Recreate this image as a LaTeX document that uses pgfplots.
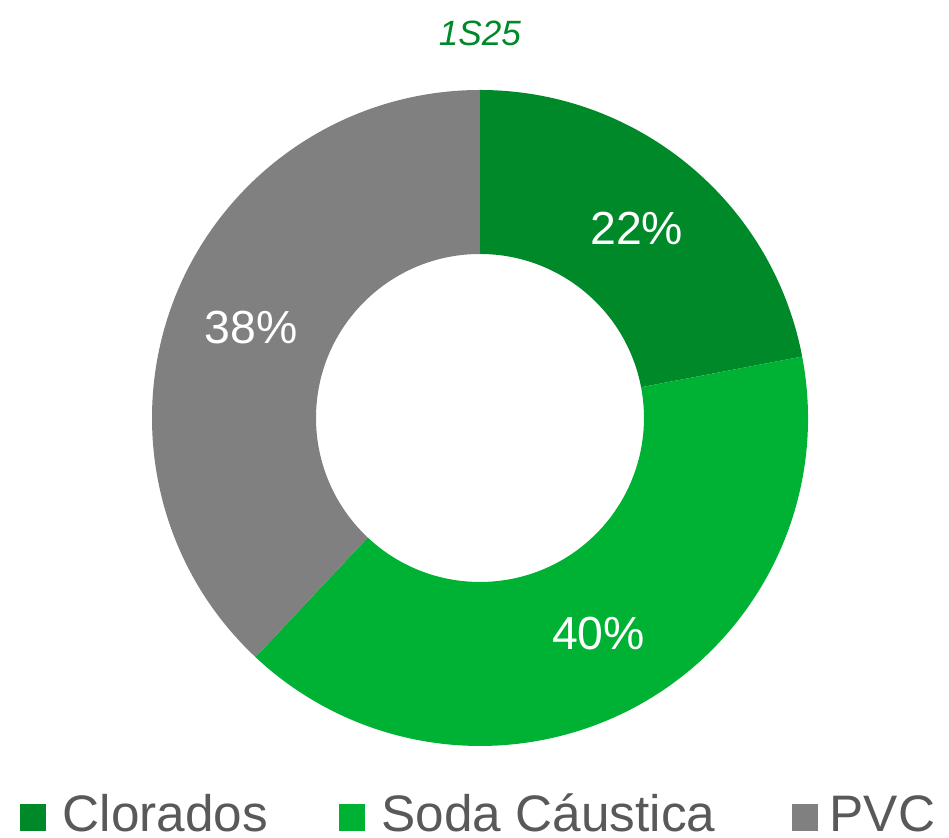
\documentclass[border=0pt]{standalone}
\usepackage{pgfplots}
\pgfplotsset{compat=1.18}
\usepackage{fontspec}
\setmainfont{Liberation Sans}
\definecolor{cloro}{RGB}{0,137,41}
\definecolor{soda}{RGB}{0,178,52}
\definecolor{pvc}{RGB}{128,128,128}
\definecolor{legtxt}{RGB}{89,89,89}
% slice shares (%)
\def\vA{22}\def\vB{40}\def\vC{38}
\def\rin{1.64}\def\rout{3.28}\def\rmid{2.46}
\pgfmathsetmacro\aA{90}
\pgfmathsetmacro\aB{\aA-3.6*\vA}
\pgfmathsetmacro\aC{\aB-3.6*\vB}
\pgfmathsetmacro\aD{\aC-3.6*\vC}
\pgfmathsetmacro\mA{(\aA+\aB)/2}
\pgfmathsetmacro\mB{(\aB+\aC)/2}
\pgfmathsetmacro\mC{(\aC+\aD)/2}
\begin{document}
\begin{tikzpicture}
\begin{axis}[
  hide axis, disabledatascaling,
  x=1cm, y=1cm, scale only axis,
  xmin=-4.80, xmax=4.69, ymin=-4.20, ymax=4.18,
  clip=false
]
\path (axis cs:-4.80,-4.20) rectangle (axis cs:4.69,4.18);
\newcommand\slice[3]{%
  \fill[#3] (axis cs:0,0) ++(#1:\rout) arc[start angle=#1, end angle=#2, radius=\rout]
    -- ++(#2:-\rin) arc[start angle=#2, end angle=#1, radius=\rin] -- cycle;}
\slice{\aA}{\aB}{cloro}
\slice{\aB}{\aC}{soda}
\slice{\aC}{\aD}{pvc}
\path (axis cs:0,0) ++(\mA:\rmid) node[white, font=\fontsize{13.2}{15}\selectfont] {\vA\%};
\path (axis cs:0,0) ++(\mB:\rmid) node[white, font=\fontsize{13.2}{15}\selectfont] {\vB\%};
\path (axis cs:0,0) ++(\mC:\rmid) node[white, font=\fontsize{13.2}{15}\selectfont] {\vC\%};
\node[cloro, font=\fontsize{10}{12}\selectfont\itshape] at (axis cs:0,3.85) {1S25};
% legend
\fill[cloro] (axis cs:-4.60,-4.13) rectangle (axis cs:-4.34,-3.86);
\node[anchor=base west, inner sep=0, legtxt, font=\fontsize{14.6}{16}\selectfont] at (axis cs:-4.18,-4.14) {Clorados};
\fill[soda] (axis cs:-1.41,-4.13) rectangle (axis cs:-1.15,-3.86);
\node[anchor=base west, inner sep=0, legtxt, font=\fontsize{14.6}{16}\selectfont] at (axis cs:-0.99,-4.14) {Soda Cáustica};
\fill[pvc] (axis cs:3.12,-4.13) rectangle (axis cs:3.38,-3.86);
\node[anchor=base west, inner sep=0, legtxt, font=\fontsize{14.6}{16}\selectfont] at (axis cs:3.49,-4.14) {PVC};
\end{axis}
\end{tikzpicture}
\end{document}
